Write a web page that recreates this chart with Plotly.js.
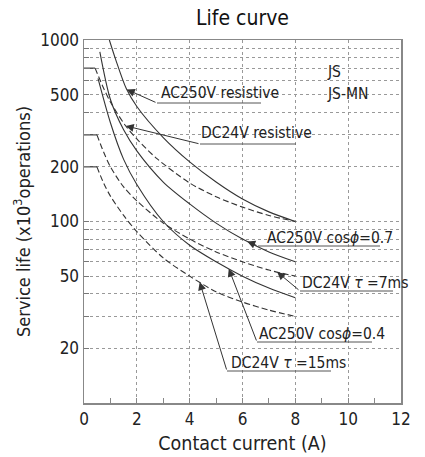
<!DOCTYPE html>
<html>
<head>
<meta charset="utf-8">
<script src="https://cdn.plot.ly/plotly-3.0.1.min.js"></script>
<style>html,body{margin:0;padding:0;background:#fff;}#chart{width:425px;height:457px;}</style>
</head>
<body>
<div id="chart"></div>
<script>
// ---- data ----
const xAcRes = [0.96, 1.2, 1.6, 2, 3, 4, 5, 6, 7, 8];
const yAcRes = [1000, 780, 540, 430, 290, 213, 165, 133, 113, 100];

const xDcRes = [0.42, 0.7, 1, 1.56, 2, 2.76, 4, 5, 6, 7, 8];
const yDcRes = [700, 560, 455, 339, 285, 222, 163, 137, 120, 108, 100];

const xAc07 = [0.6, 1, 1.5, 2, 3, 4, 5, 6, 7, 8];
const yAc07 = [860, 470, 320, 245, 165, 125, 98, 80, 68, 60];

const xAc04 = [0.53, 1, 1.5, 2, 3, 4, 5, 6, 7, 8];
const yAc04 = [614, 350, 220, 160, 100, 74, 60, 50, 43, 38];

const xDc7 = [0.49, 0.75, 1, 1.5, 2, 3, 4, 5, 6, 7, 8];
const yDc7 = [300, 240, 200, 155, 130, 98, 80, 68, 60, 54, 50];

const xDc15 = [0.49, 0.75, 1, 1.5, 2, 3, 4, 5, 6, 7, 8];
const yDc15 = [200, 162, 138, 108, 88, 63, 50, 41, 36, 32.5, 30];

const yTickVals = [20, 30, 40, 50, 60, 70, 80, 90, 100, 200, 300, 400, 500, 600, 700, 800, 900, 1000];
const yTickText = ['20', '', '', '50', '', '', '', '', '100', '200', '', '', '500', '', '', '', '', '1000'];
const xTickVals = [0, 2, 4, 6, 8, 10, 12];

const labelTexts = ['AC250V resistive', 'DC24V resistive', 'AC250V cos<i>ϕ</i>=0.7',
  'DC24V <i>τ</i> =7ms', 'AC250V cos<i>ϕ</i>=0.4', 'DC24V <i>τ</i> =15ms'];
const modelTexts = ['JS', 'JS-MN'];

// ---- geometry helpers ----
const L = 84, R = 401, T = 40, B = 403;
const pX = px => (px - L) / (R - L);
const pY = py => (B - py) / (B - T);
const dX = px => (px - L) / (R - L) * 12;
const dLY = py => 3 - (py - T) / (B - T) * 2;
function interpLog(xs, ys, x) {
  for (let i = 0; i < xs.length - 1; i++) {
    if (x >= xs[i] && x <= xs[i + 1]) {
      const t = (x - xs[i]) / (xs[i + 1] - xs[i]);
      return Math.log10(ys[i]) * (1 - t) + Math.log10(ys[i + 1]) * t;
    }
  }
  return Math.log10(ys[ys.length - 1]);
}

const lineCol = '#333';
const dashStyle = '6px,3px';
function curve(x, y, dashed) {
  return {x: x, y: y, type: 'scatter', mode: 'lines', hoverinfo: 'skip',
    line: {color: lineCol, width: 1.1, shape: 'spline', smoothing: 0.8, dash: dashed ? dashStyle : 'solid'}};
}
function plateau(x0, y0) {
  return {x: [0, x0], y: [y0, y0], type: 'scatter', mode: 'lines', hoverinfo: 'skip',
    line: {color: lineCol, width: 1.1}};
}

const traces = [
  curve(xAcRes, yAcRes, false),
  curve(xAc07, yAc07, false),
  curve(xAc04, yAc04, false),
  curve(xDcRes, yDcRes, true), plateau(xDcRes[0], yDcRes[0]),
  curve(xDc7, yDc7, true), plateau(xDc7[0], yDc7[0]),
  curve(xDc15, yDc15, true), plateau(xDc15[0], yDc15[0])
];

const curves = [[xAcRes, yAcRes], [xDcRes, yDcRes], [xAc07, yAc07], [xDc7, yDc7], [xAc04, yAc04], [xDc15, yDc15]];
const place = [
  {tx: 160, ty: 93, u0: 157, u1: 261, uy: 103, tip: 1.62},
  {tx: 200, ty: 133, u0: 200, u1: 296, uy: 144, tip: 1.58},
  {tx: 266, ty: 238, u0: 258, u1: 380, uy: 246, tip: 6.18},
  {tx: 301, ty: 283, u0: 300, u1: 393, uy: 291, tip: 7.31},
  {tx: 258, ty: 334, u0: 257, u1: 372, uy: 342, tip: 5.48},
  {tx: 230, ty: 363, u0: 227, u1: 331, uy: 371, tip: 4.38}
];

const font = '"Liberation Sans Narrow", "DejaVu Sans Condensed", Roboto, sans-serif';
const annotations = [];
const shapes = [];
place.forEach((p, i) => {
  annotations.push({xref: 'paper', yref: 'paper', x: pX(p.tx), y: pY(p.ty), xanchor: 'left', yanchor: 'middle',
    text: labelTexts[i], showarrow: false, font: {family: font, size: 15.5, color: '#222'}, borderpad: 0});
  shapes.push({type: 'line', xref: 'paper', yref: 'paper', x0: pX(p.u0), x1: pX(p.u1), y0: pY(p.uy), y1: pY(p.uy),
    line: {color: '#555', width: 1}});
  const c = curves[i];
  annotations.push({xref: 'x', yref: 'y', x: p.tip, y: interpLog(c[0], c[1], p.tip),
    axref: 'x', ayref: 'y', ax: dX(p.u0), ay: dLY(p.uy), text: '', showarrow: true,
    arrowhead: 2, arrowsize: 1.6, arrowwidth: 1, arrowcolor: '#333', standoff: 0});
});
annotations.push({xref: 'paper', yref: 'paper', x: pX(326), y: pY(72), xanchor: 'left', yanchor: 'middle',
  text: modelTexts[0], showarrow: false, font: {family: font, size: 15.5, color: '#222'}, borderpad: 0});
annotations.push({xref: 'paper', yref: 'paper', x: pX(326), y: pY(94), xanchor: 'left', yanchor: 'middle',
  text: modelTexts[1], showarrow: false, font: {family: font, size: 15.5, color: '#222'}, borderpad: 0});

const layout = {
  width: 425, height: 457,
  margin: {l: L, r: 425 - R, t: T, b: 457 - B},
  paper_bgcolor: '#fff', plot_bgcolor: '#fff',
  showlegend: false,
  font: {family: font, color: '#222'},
  title: {text: 'Life curve', x: 0.5, xref: 'paper', y: 1 - 18 / 457, yref: 'container', yanchor: 'middle',
    font: {family: font, size: 21, color: '#111'}},
  xaxis: {range: [0, 12], tickvals: xTickVals, showgrid: true, gridcolor: '#999', griddash: 'dot', gridwidth: 1,
    zeroline: false, showline: true, linecolor: '#888', linewidth: 1.5, mirror: true,
    ticks: 'inside', ticklen: 5, tickcolor: '#888',
    minor: {dtick: 1, ticks: 'inside', ticklen: 5, tickcolor: '#888', showgrid: false},
    tickfont: {family: font, size: 17, color: '#222'},
    title: {text: 'Contact current (A)', font: {family: font, size: 19.5, color: '#222'}, standoff: 8}},
  yaxis: {type: 'log', range: [1, 3], tickvals: yTickVals, ticktext: yTickText,
    showgrid: true, gridcolor: '#999', griddash: 'dot', gridwidth: 1,
    zeroline: false, showline: true, linecolor: '#888', linewidth: 1.5, mirror: true,
    ticks: 'inside', ticklen: 5, tickcolor: '#777',
    tickfont: {family: font, size: 17, color: '#222'},
    title: {text: 'Service life (x10<sup>3</sup>operations)', font: {family: font, size: 18, color: '#222'}, standoff: 5}},
  annotations: annotations,
  shapes: shapes
};

Plotly.newPlot('chart', traces, layout, {staticPlot: true, displayModeBar: false});
</script>
</body>
</html>
